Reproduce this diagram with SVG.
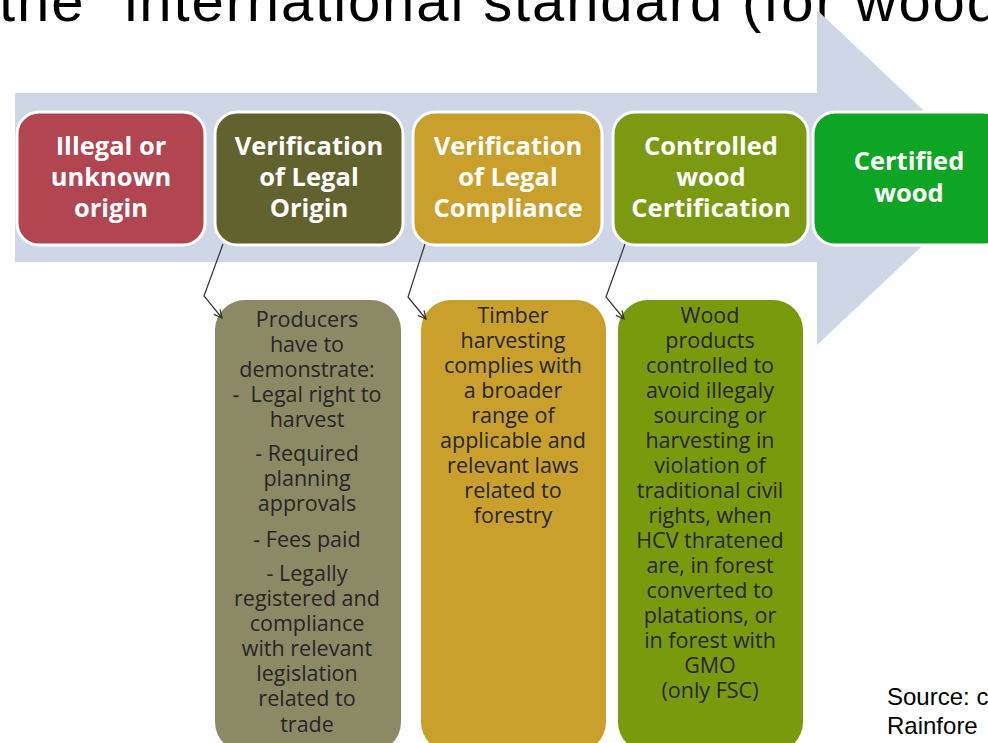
<svg xmlns="http://www.w3.org/2000/svg" width="988" height="743" viewBox="0 0 988 743">
  <defs>
    <marker id="ah" markerWidth="12" markerHeight="12" refX="9" refY="5" orient="auto" markerUnits="userSpaceOnUse">
      <path d="M1,1 L9,5 L1,9" fill="none" stroke="#333" stroke-width="1.2"/>
    </marker>
    <style>
      .title { font-family: "Liberation Sans", Arial, sans-serif; font-size: 58px; fill: #000; }
      .step { stroke: #ffffff; stroke-width: 3; }
      .stepText { font-family: "Open Sans", "Noto Sans", sans-serif; font-weight: bold; font-size: 25.5px; fill: #ffffff; text-anchor: middle; }
      .desc { font-family: "Open Sans", "Noto Sans", sans-serif; font-size: 21.5px; fill: #262626; text-anchor: middle; }
      .conn { fill: none; stroke: #333; stroke-width: 1.2; marker-end: url(#ah); }
      .src { font-family: "Liberation Sans", Arial, sans-serif; font-size: 24px; fill: #000; }
    </style>
  </defs>
  <rect width="988" height="743" fill="#ffffff"/>

  <text class="title" x="-1" y="21" textLength="1000" lengthAdjust="spacing">the “international standard (for wood</text>

  <g id="arrow">
    <path d="M15,93 H817 V10 L995,177.5 L817,345 V262 H15 Z" fill="#cfd6e6"/>
  </g>

  <g id="step1">
    <rect class="step" x="17" y="112" width="188" height="133" rx="22" fill="#b14651"/>
    <text class="stepText" x="111" y="155">Illegal or</text>
    <text class="stepText" x="111" y="186">unknown</text>
    <text class="stepText" x="111" y="217">origin</text>
  </g>
  <g id="step2">
    <rect class="step" x="215" y="112" width="188" height="133" rx="22" fill="#62622f"/>
    <text class="stepText" x="309" y="155">Verification</text>
    <text class="stepText" x="309" y="186">of Legal</text>
    <text class="stepText" x="309" y="217">Origin</text>
  </g>
  <g id="step3">
    <rect class="step" x="413" y="112" width="189" height="133" rx="22" fill="#c9a02c"/>
    <text class="stepText" x="508" y="155">Verification</text>
    <text class="stepText" x="508" y="186">of Legal</text>
    <text class="stepText" x="508" y="217">Compliance</text>
  </g>
  <g id="step4">
    <rect class="step" x="613" y="112" width="195" height="133" rx="22" fill="#7b9a12"/>
    <text class="stepText" x="711" y="155">Controlled</text>
    <text class="stepText" x="711" y="186">wood</text>
    <text class="stepText" x="711" y="217">Certification</text>
  </g>
  <g id="step5">
    <rect class="step" x="813" y="112" width="192" height="133" rx="22" fill="#0fa524"/>
    <text class="stepText" x="909" y="170">Certified</text>
    <text class="stepText" x="909" y="202">wood</text>
  </g>

  <g id="descLegalOrigin">
    <rect x="215" y="300" width="186" height="452" rx="30" fill="#8b8a64"/>
    <text class="desc" x="307" y="327">Producers</text>
    <text class="desc" x="307" y="352">have to</text>
    <text class="desc" x="307" y="377">demonstrate:</text>
    <text class="desc" x="307" y="402" xml:space="preserve">-  Legal right to</text>
    <text class="desc" x="307" y="427">harvest</text>
    <text class="desc" x="307" y="461">- Required</text>
    <text class="desc" x="307" y="486">planning</text>
    <text class="desc" x="307" y="511">approvals</text>
    <text class="desc" x="307" y="547">- Fees paid</text>
    <text class="desc" x="307" y="581">- Legally</text>
    <text class="desc" x="307" y="606">registered and</text>
    <text class="desc" x="307" y="631">compliance</text>
    <text class="desc" x="307" y="656">with relevant</text>
    <text class="desc" x="307" y="681">legislation</text>
    <text class="desc" x="307" y="706">related to</text>
    <text class="desc" x="307" y="732">trade</text>
  </g>

  <g id="descLegalCompliance">
    <rect x="421" y="300" width="185" height="452" rx="30" fill="#c9a02b"/>
    <text class="desc" x="513" y="323">Timber</text>
    <text class="desc" x="513" y="348">harvesting</text>
    <text class="desc" x="513" y="373">complies with</text>
    <text class="desc" x="513" y="398">a broader</text>
    <text class="desc" x="513" y="423">range of</text>
    <text class="desc" x="513" y="448">applicable and</text>
    <text class="desc" x="513" y="473">relevant laws</text>
    <text class="desc" x="513" y="498">related to</text>
    <text class="desc" x="513" y="523">forestry</text>
  </g>

  <g id="descControlledWood">
    <rect x="618" y="300" width="185" height="452" rx="30" fill="#799a0c"/>
    <text class="desc" x="710" y="323">Wood</text>
    <text class="desc" x="710" y="348">products</text>
    <text class="desc" x="710" y="373">controlled to</text>
    <text class="desc" x="710" y="398">avoid illegaly</text>
    <text class="desc" x="710" y="423">sourcing or</text>
    <text class="desc" x="710" y="448">harvesting in</text>
    <text class="desc" x="710" y="473">violation of</text>
    <text class="desc" x="710" y="498">traditional civil</text>
    <text class="desc" x="710" y="523">rights, when</text>
    <text class="desc" x="710" y="548">HCV thratened</text>
    <text class="desc" x="710" y="573">are, in forest</text>
    <text class="desc" x="710" y="598">converted to</text>
    <text class="desc" x="710" y="623">platations, or</text>
    <text class="desc" x="710" y="648">in forest with</text>
    <text class="desc" x="710" y="673">GMO</text>
    <text class="desc" x="710" y="698">(only FSC)</text>
  </g>

  <g id="connectors">
    <polyline class="conn" points="223,244 204,296 222,318"/>
    <polyline class="conn" points="425,244 408,297 426,319"/>
    <polyline class="conn" points="625,244 606,297 624,319"/>
  </g>

  <g id="source">
    <text class="src" x="887" y="705">Source: c</text>
    <text class="src" x="887" y="734">Rainfore</text>
  </g>
</svg>
